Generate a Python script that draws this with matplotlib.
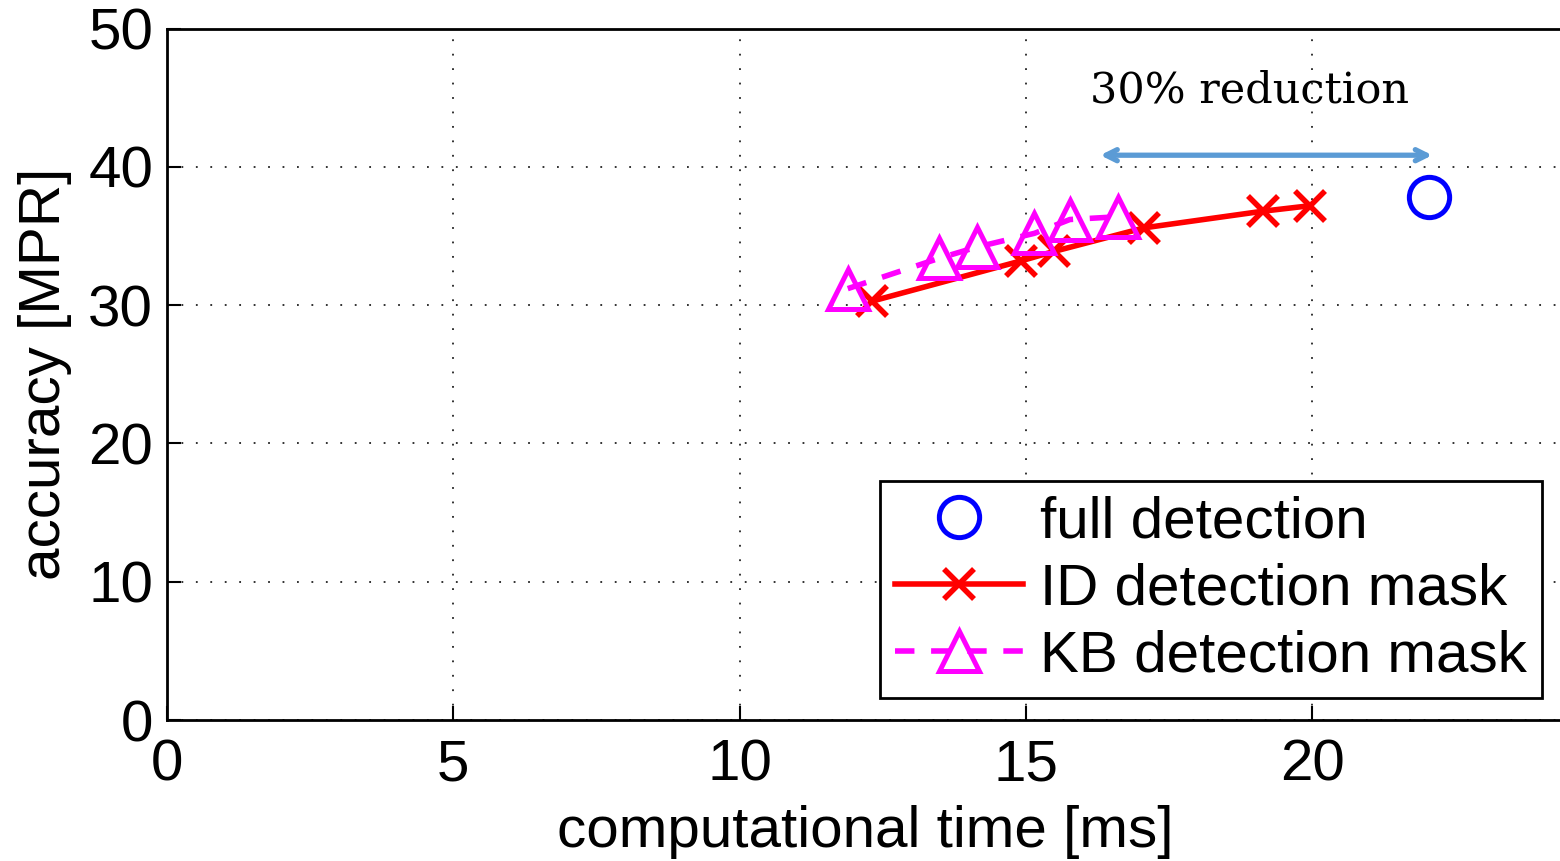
import matplotlib.pyplot as plt

# computational time [ms] vs accuracy [MPR]
full_time = [22.05]
full_acc = [37.8]

id_time = [12.32, 14.91, 15.50, 17.07, 19.14, 19.97]
id_acc = [30.3, 33.2, 33.9, 35.6, 36.8, 37.2]

kb_time = [11.89, 13.49, 14.14, 15.15, 15.77, 16.61]
kb_acc = [31.2, 33.4, 34.2, 35.2, 36.2, 36.4]

# span of the reduction arrow and its caption
arrow_x = (16.30, 22.10)
arrow_y = 40.85
note_x, note_y = 18.9, 45.5

plt.rcParams['font.family'] = ['Liberation Sans', 'DejaVu Sans']

fig = plt.figure(figsize=(15.6, 8.61), dpi=100)
ax = fig.add_axes([167 / 1560, 0.16376, 1397 / 1560, 0.80290])

ax.plot(full_time, full_acc, linestyle='none', marker='o', markersize=29,
        markerfacecolor='none', markeredgecolor='#0000ff', markeredgewidth=3.6,
        label='full detection')
ax.plot(id_time, id_acc, color='#ff0000', linewidth=4, marker='x',
        markersize=21, markeredgewidth=4, label='ID detection mask')
ax.plot(kb_time, kb_acc, color='#ff00ff', linewidth=4, linestyle=(0, (3.5, 3)),
        marker='^', markersize=29, markerfacecolor='none',
        markeredgecolor='#ff00ff', markeredgewidth=3.6, label='KB detection mask')

ax.annotate('', xy=(arrow_x[0], arrow_y), xytext=(arrow_x[1], arrow_y),
            arrowprops=dict(arrowstyle='<->,head_length=0.8,head_width=0.4',
                            color='#5b9bd5', lw=3.8, shrinkA=0, shrinkB=0))
ax.text(note_x, note_y, '30% reduction', family='DejaVu Serif', fontsize=31,
        ha='center', va='center')

ax.set_xlim(0, 24.4)
ax.set_ylim(0, 50)
ax.set_xticks([0, 5, 10, 15, 20])
ax.set_yticks([0, 10, 20, 30, 40, 50])
ax.tick_params(direction='in', length=10, width=1.5, labelsize=42)
ax.tick_params(axis='x', pad=13)
ax.tick_params(axis='y', pad=10)
for s in ax.spines.values():
    s.set_linewidth(2)

ax.grid(True, linestyle=(0, (1, 7)), color='#222222', linewidth=1.3)

ax.set_xlabel('computational time [ms]', fontsize=42, labelpad=9)
ax.set_ylabel('accuracy [MPR]', fontsize=42, labelpad=12)

leg = ax.legend(loc='lower left', bbox_to_anchor=(880 / 1560, (861 - 698) / 861),
                bbox_transform=fig.transFigure, fontsize=42, fancybox=False,
                framealpha=1, edgecolor='black', handlelength=2.2,
                handletextpad=0.3, labelspacing=0.22, borderpad=0.25,
                borderaxespad=0)
leg.get_frame().set_linewidth(2)

fig.savefig('out.png', dpi=100)
